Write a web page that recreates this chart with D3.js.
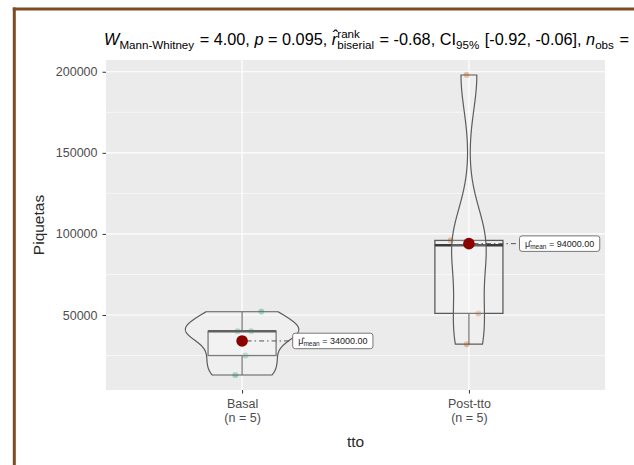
<!DOCTYPE html>
<html>
<head>
<meta charset="utf-8">
<script src="https://cdn.jsdelivr.net/npm/d3@7"></script>
<style>
  body { margin: 0; background: #ffffff; }
  svg { display: block; font-family: "Liberation Sans", Arial, Helvetica, sans-serif; }
  text { white-space: pre; }
</style>
</head>
<body>
<svg id="chart" width="634" height="465"></svg>
<script>
// ---- data ----
const groups = ["Basal", "Post-tto"];
const groupCounts = ["(n = 5)", "(n = 5)"];
const basalValues = [13000, 25000, 40000, 40000, 52000];
const postValues = [32000, 51000, 93000, 96000, 198000];
// fixed horizontal spread of the raw points, in category units
const basalJitter = [-0.03, 0.015, -0.02, 0.04, 0.085];
const postJitter = [-0.01, 0.042, 0.0, -0.08, -0.01];
const yTicks = [50000, 100000, 150000, 200000];
const yMinorTicks = [25000, 75000, 125000, 175000];
const statW = "4.00", statP = "0.095", statR = "-0.68", statCI = ["-0.92", "-0.06"], statN = "10";
const yTitle = "Piquetas";
const xTitle = "tto";

const groupValues = [basalValues, postValues];
const groupJitter = [basalJitter, postJitter];
const pointColors = ["#1B9E77", "#D95F02"];

const svg = d3.select("#chart");
const W = 634, H = 465;
const panel = { left: 106, right: 605, top: 60, bottom: 390 };

// frame
svg.append("line").attr("x1", 14.3).attr("x2", 14.3).attr("y1", 7.5).attr("y2", H)
  .attr("stroke", "#7d4c24").attr("stroke-width", 3);
svg.append("line").attr("x1", 12.8).attr("x2", W).attr("y1", 9).attr("y2", 9)
  .attr("stroke", "#7d4c24").attr("stroke-width", 3);

// scales
const x = d3.scaleLinear().domain([0.4, 2.6]).range([panel.left, panel.right]);
const allValues = basalValues.concat(postValues);
const [vMin, vMax] = d3.extent(allValues);
const pad = (vMax - vMin) * 0.05;
const y = d3.scaleLinear().domain([vMin - pad, vMax + pad]).range([panel.bottom, panel.top]);

// panel + grid
svg.append("rect").attr("x", panel.left).attr("y", panel.top)
  .attr("width", panel.right - panel.left).attr("height", panel.bottom - panel.top)
  .attr("fill", "#EBEBEB");
const grid = svg.append("g");
grid.selectAll(".minor").data(yMinorTicks).join("line")
  .attr("x1", panel.left).attr("x2", panel.right)
  .attr("y1", d => y(d)).attr("y2", d => y(d))
  .attr("stroke", "#ffffff").attr("stroke-width", 0.6);
grid.selectAll(".major").data(yTicks).join("line")
  .attr("x1", panel.left).attr("x2", panel.right)
  .attr("y1", d => y(d)).attr("y2", d => y(d))
  .attr("stroke", "#ffffff").attr("stroke-width", 1.2);
grid.selectAll(".vmajor").data(groups).join("line")
  .attr("x1", (d, i) => x(i + 1)).attr("x2", (d, i) => x(i + 1))
  .attr("y1", panel.top).attr("y2", panel.bottom)
  .attr("stroke", "#ffffff").attr("stroke-width", 1.2);

// y axis
const yAxis = svg.append("g").attr("transform", `translate(${panel.left},0)`)
  .call(d3.axisLeft(y).tickValues(yTicks).tickSize(3.5).tickPadding(5).tickFormat(d3.format("d")));
yAxis.select(".domain").remove();
yAxis.selectAll(".tick line").attr("stroke", "#333333").attr("stroke-width", 1);
yAxis.selectAll(".tick text").attr("fill", "#4D4D4D").attr("font-size", 12.5)
  .attr("font-family", "Liberation Sans, Arial, sans-serif");

// x axis
const xAxis = svg.append("g").attr("transform", `translate(0,${panel.bottom})`)
  .call(d3.axisBottom(x).tickValues([1, 2]).tickSize(3.5).tickPadding(3).tickFormat(() => ""));
xAxis.select(".domain").remove();
xAxis.selectAll(".tick line").attr("stroke", "#333333").attr("stroke-width", 1);
xAxis.selectAll(".tick text").each(function (d) {
  const t = d3.select(this).attr("fill", "#4D4D4D").attr("font-size", 12.5)
    .attr("font-family", "Liberation Sans, Arial, sans-serif");
  t.append("tspan").attr("x", 0).attr("dy", "0.95em").text(groups[d - 1]);
  t.append("tspan").attr("x", 0).attr("dy", "1.1em").text(groupCounts[d - 1]);
});

// axis titles
svg.append("text").attr("x", x(1.5)).attr("y", 447).attr("text-anchor", "middle")
  .attr("font-size", 15.5).attr("fill", "#2a2a2a").text(xTitle);
svg.append("text").attr("transform", `translate(44,${(panel.top + panel.bottom) / 2}) rotate(-90)`)
  .attr("text-anchor", "middle").attr("font-size", 15.5).attr("fill", "#2a2a2a").text(yTitle);

// ---- statistics helpers ----
function bwNrd0(v) {
  const s = v.slice().sort(d3.ascending);
  const sd = d3.deviation(s);
  const iqr = d3.quantileSorted(s, 0.75) - d3.quantileSorted(s, 0.25);
  const lo = Math.min(sd, iqr / 1.34);
  return 0.9 * lo * Math.pow(s.length, -0.2);
}
function kde(v) {
  const bw = bwNrd0(v);
  const [a, b] = d3.extent(v);
  return d3.range(512).map(i => {
    const t = a + (b - a) * i / 511;
    const dens = d3.mean(v, xi => Math.exp(-0.5 * ((t - xi) / bw) ** 2)) / (bw * Math.sqrt(2 * Math.PI));
    return [t, dens];
  });
}
const densities = groupValues.map(kde);
const maxDensity = d3.max(densities, d => d3.max(d, p => p[1]));
const unit = x(2) - x(1);

const plot = svg.append("g");

// raw points
groupValues.forEach((vals, gi) => {
  plot.append("g").selectAll("circle").data(vals).join("circle")
    .attr("cx", (d, i) => x(gi + 1 + groupJitter[gi][i]))
    .attr("cy", d => y(d))
    .attr("r", 3)
    .attr("fill", pointColors[gi]).attr("fill-opacity", 0.4);
});

// box plots
groupValues.forEach((vals, gi) => {
  const s = vals.slice().sort(d3.ascending);
  const q1 = d3.quantileSorted(s, 0.25), med = d3.quantileSorted(s, 0.5), q3 = d3.quantileSorted(s, 0.75);
  const iqr = q3 - q1;
  const lowW = d3.min(s.filter(v => v >= q1 - 1.5 * iqr));
  const highW = d3.max(s.filter(v => v <= q3 + 1.5 * iqr));
  const cx = x(gi + 1), hw = 0.15 * unit;
  const g = plot.append("g").attr("stroke", "#5c5c5c").attr("stroke-width", 1.3);
  g.append("line").attr("x1", cx).attr("x2", cx).attr("y1", y(q3)).attr("y2", y(highW));
  g.append("line").attr("x1", cx).attr("x2", cx).attr("y1", y(q1)).attr("y2", y(lowW));
  g.append("rect").attr("x", cx - hw).attr("width", 2 * hw)
    .attr("y", y(q3)).attr("height", y(q1) - y(q3))
    .attr("fill", "#ffffff").attr("fill-opacity", 0.2);
  g.append("line").attr("x1", cx - hw).attr("x2", cx + hw).attr("y1", y(med)).attr("y2", y(med))
    .attr("stroke", "#3a3a3a").attr("stroke-width", 2.6);
});

// violins
densities.forEach((dens, gi) => {
  const cx = x(gi + 1);
  const half = p => (p[1] / maxDensity) * 0.25 * unit;
  const pts = dens.map(p => [cx - half(p), y(p[0])])
    .concat(dens.slice().reverse().map(p => [cx + half(p), y(p[0])]));
  plot.append("path").attr("d", d3.line()(pts) + "Z")
    .attr("fill", "#ffffff").attr("fill-opacity", 0.2)
    .attr("stroke", "#5c5c5c").attr("stroke-width", 1.2);
});

// means + labels
const leaderLayer = svg.append("g");
const labelLayer = svg.append("g");
const meanLayer = svg.append("g");
groupValues.forEach((vals, gi) => {
  const m = d3.mean(vals);
  const cx = x(gi + 1), cy = y(m);
  const lx = x(gi + 1.4);
  const lab = labelLayer.append("g");
  const rect = lab.append("rect");
  const t = lab.append("text").attr("y", cy).attr("dy", "0.35em").attr("font-size", 9).attr("fill", "#222");
  t.append("tspan").text("\u03BC\u0302");
  t.append("tspan").attr("font-size", 6.5).attr("dy", 2).text("mean");
  t.append("tspan").attr("dy", -2).text(" = " + d3.format(".2f")(m));
  const tw = t.node().getComputedTextLength();
  const bw = tw + 11, bh = 15.5;
  t.attr("x", lx - tw / 2);
  rect.attr("x", lx - bw / 2).attr("y", cy - bh / 2).attr("width", bw).attr("height", bh)
    .attr("rx", 2.5).attr("fill", "#ffffff").attr("stroke", "#777").attr("stroke-width", 1);
  // dot-dash leader from the mean to its label
  leaderLayer.append("line").attr("x1", cx).attr("x2", lx - bw / 2).attr("y1", cy).attr("y2", cy)
    .attr("stroke", "#555").attr("stroke-width", 1).attr("stroke-dasharray", "1.5,3,5,3");
  meanLayer.append("circle").attr("cx", cx).attr("cy", cy).attr("r", 5.8).attr("fill", "#8B0000");
});

// subtitle with sub/superscripts
const subtitleParts = [
  { t: "W", it: true }, { t: "Mann-Whitney", sub: true }, { t: " = " + statW + ", " },
  { t: "p", it: true }, { t: " = " + statP + ", " },
  { t: "r\u0302", it: true }, { t: "rank", sup: true, under: "biserial" }, { t: " = " + statR + ", " },
  { t: "CI" }, { t: "95%", sub: true }, { t: " [" + statCI[0] + ", " + statCI[1] + "], " },
  { t: "n", it: true }, { t: "obs", sub: true }, { t: " = " + statN }
];
const mainSize = 16.3, scriptSize = 11.6, baseY = 45;
let cursor = 104;
const title = svg.append("g").attr("fill", "#000");
subtitleParts.forEach(p => {
  const size = (p.sub || p.sup) ? scriptSize : mainSize;
  const dy = p.sub ? 4 : p.sup ? -7.5 : 0;
  const el = title.append("text").attr("x", cursor).attr("y", baseY + dy)
    .attr("font-size", size).attr("font-style", p.it ? "italic" : "normal").text(p.t);
  let adv = el.node().getComputedTextLength();
  if (p.under) {
    const el2 = title.append("text").attr("x", cursor).attr("y", baseY + 4)
      .attr("font-size", scriptSize).text(p.under);
    adv = Math.max(adv, el2.node().getComputedTextLength());
  }
  cursor += adv + (p.sub || p.sup ? 1 : 0);
});
</script>
</body>
</html>
